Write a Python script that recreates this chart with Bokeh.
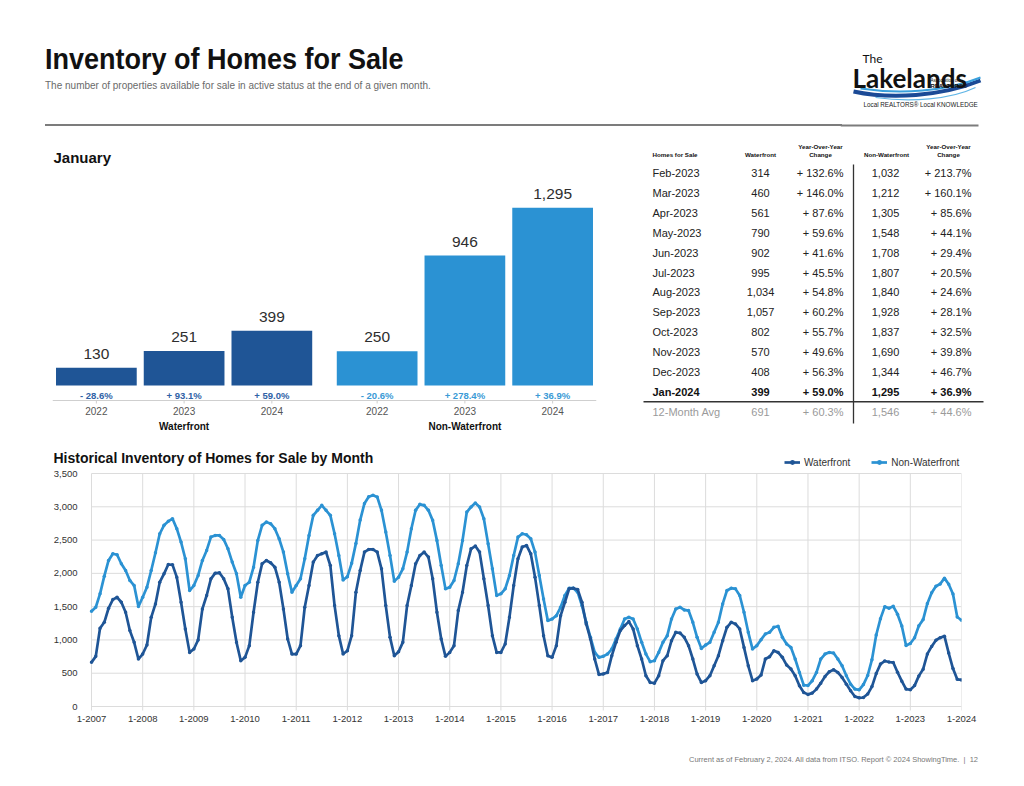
from bokeh.plotting import figure
from bokeh.models import (ColumnDataSource, FactorRange, Range1d, FixedTicker,
                          Legend, LegendItem, Div, Span)
from bokeh.layouts import column, row
from bokeh.embed import file_html
from bokeh.resources import INLINE
from bokeh.core.properties import value

# ------------------------------------------------------------------ data
bar_groups = ["Waterfront", "Non-Waterfront"]
bar_years = ["2022", "2023", "2024"]
bar_waterfront = [130, 251, 399]
bar_nonwaterfront = [250, 946, 1295]
bar_waterfront_change = [-28.6, 93.1, 59.0]
bar_nonwaterfront_change = [-20.6, 278.4, 36.9]

table_months = ["Feb-2023", "Mar-2023", "Apr-2023", "May-2023", "Jun-2023", "Jul-2023",
                "Aug-2023", "Sep-2023", "Oct-2023", "Nov-2023", "Dec-2023", "Jan-2024",
                "12-Month Avg"]
table_waterfront = [314, 460, 561, 790, 902, 995, 1034, 1057, 802, 570, 408, 399, 691]
table_waterfront_change = [132.6, 146.0, 87.6, 59.6, 41.6, 45.5, 54.8, 60.2, 55.7, 49.6,
                           56.3, 59.0, 60.3]
table_nonwaterfront = [1032, 1212, 1305, 1548, 1708, 1807, 1840, 1928, 1837, 1690, 1344,
                       1295, 1546]
table_nonwaterfront_change = [213.7, 160.1, 85.6, 44.1, 29.4, 20.5, 24.6, 28.1, 32.5, 39.8,
                              46.7, 36.9, 44.6]

hist_first_year = 2007
hist_last_year = 2024
hist_waterfront = [
    663, 753, 1175, 1265, 1476, 1606, 1641, 1566, 1416, 1140, 964, 713,      # 2007
    788, 924, 1340, 1541, 1867, 1993, 2133, 2128, 1943, 1566, 1165, 813,     # 2008
    863, 999, 1466, 1667, 1918, 2003, 2008, 1918, 1767, 1340, 964, 688,      # 2009
    738, 914, 1416, 1867, 2144, 2194, 2159, 2093, 1867, 1466, 1014, 788,     # 2010
    788, 914, 1491, 1817, 2169, 2269, 2294, 2319, 2118, 1516, 1064, 788,     # 2011
    838, 1064, 1717, 2043, 2319, 2359, 2359, 2319, 2068, 1516, 1039, 763,    # 2012
    823, 964, 1516, 1817, 2144, 2269, 2319, 2244, 1918, 1416, 1014, 753,     # 2013
    813, 914, 1441, 1717, 2118, 2369, 2410, 2319, 1918, 1516, 1064, 813,     # 2014
    813, 939, 1340, 1817, 2219, 2395, 2420, 2294, 1943, 1516, 1064, 763,     # 2015
    738, 914, 1365, 1566, 1767, 1777, 1757, 1566, 1240, 1014, 713, 480,      # 2016
    490, 510, 763, 964, 1140, 1215, 1275, 1165, 914, 713, 462, 361,          # 2017
    351, 462, 688, 763, 989, 1114, 1104, 1039, 914, 713, 487, 361,           # 2018
    387, 462, 612, 763, 989, 1190, 1265, 1240, 1165, 888, 612, 387,          # 2019
    412, 472, 713, 748, 838, 813, 738, 622, 562, 462, 311, 211,              # 2020
    182, 201, 261, 351, 452, 522, 552, 512, 437, 336, 236, 151,              # 2021
    130, 135, 187, 299, 495, 637, 684, 668, 660, 515, 381, 261,              # 2022
    251, 314, 460, 561, 790, 902, 995, 1034, 1057, 802, 570, 408,            # 2023
    399,                                                                     # 2024
]
hist_nonwaterfront = [
    1431, 1491, 1692, 1958, 2194, 2294, 2279, 2144, 2043, 1893, 1817, 1501,  # 2007
    1641, 1792, 2043, 2309, 2595, 2721, 2781, 2821, 2671, 2470, 2219, 1742,  # 2008
    1817, 1968, 2194, 2344, 2545, 2570, 2570, 2510, 2369, 2169, 1993, 1641,  # 2009
    1817, 1867, 2093, 2495, 2721, 2771, 2746, 2671, 2520, 2319, 1993, 1717,  # 2010
    1817, 1918, 2219, 2570, 2871, 2947, 3022, 2947, 2871, 2595, 2269, 1900,  # 2011
    1950, 2150, 2450, 2800, 3050, 3150, 3172, 3147, 2947, 2620, 2269, 1880,  # 2012
    1943, 2068, 2319, 2671, 2947, 3037, 3022, 2947, 2796, 2495, 2118, 1767,  # 2013
    1792, 1893, 2144, 2495, 2921, 2997, 3057, 2997, 2821, 2445, 2068, 1667,  # 2014
    1692, 1767, 1968, 2269, 2545, 2595, 2580, 2520, 2319, 1968, 1616, 1290,  # 2015
    1315, 1365, 1491, 1667, 1777, 1777, 1717, 1516, 1265, 1039, 813, 738,    # 2016
    753, 788, 863, 1014, 1165, 1315, 1340, 1315, 1165, 964, 788, 673,        # 2017
    688, 813, 964, 1064, 1315, 1466, 1491, 1451, 1441, 1265, 1039, 873,      # 2018
    924, 964, 1114, 1265, 1541, 1742, 1777, 1767, 1667, 1416, 1114, 863,     # 2019
    914, 1004, 1089, 1114, 1190, 1205, 1039, 939, 888, 713, 512, 321,        # 2020
    315, 387, 512, 713, 788, 813, 803, 713, 612, 462, 336, 261,              # 2021
    250, 329, 466, 703, 1074, 1320, 1500, 1477, 1505, 1386, 1209, 916,       # 2022
    946, 1032, 1212, 1305, 1548, 1708, 1807, 1840, 1928, 1837, 1690, 1344,   # 2023
    1295,                                                                    # 2024
]
hist_y_ticks = [0, 500, 1000, 1500, 2000, 2500, 3000, 3500]

# ------------------------------------------------------------------ style
FONT = "Liberation Sans"
C_WF = "#1f5596"
C_NWF = "#2b92d3"
C_WF_TXT = "#2f62a6"
C_NWF_TXT = "#3a9ad6"
GRID = "#dcdcdc"


def pct(v):
    return ("+ " if v >= 0 else "- ") + f"{abs(v):.1f}%"


def blank_fig(**kw):
    p = figure(toolbar_location=None, output_backend="svg", title=None,
               x_axis_location=None, y_axis_location=None, **kw)
    p.outline_line_color = None
    p.background_fill_color = None
    p.border_fill_color = None
    for g in p.grid:
        g.visible = False
    return p


# ------------------------------------------------------------------ header
header = Div(width=840, height=127, margin=(0, 0, 0, 0), text=(
    "<div style='margin:0 0 0 45px;padding-top:44px;width:797px;height:126px;"
    "box-sizing:border-box;border-bottom:2px solid #7c7c7c;'>"
    f"<div style=\"font-family:'{FONT}',sans-serif;font-weight:bold;font-size:30px;"
    "line-height:30px;color:#111;white-space:nowrap;display:inline-block;"
    "transform:scaleX(0.9);transform-origin:0 0;\">Inventory of Homes for Sale</div>"
    f"<div style=\"font-family:'{FONT}',sans-serif;font-size:10px;line-height:10px;color:#6a6a6a;"
    "margin-top:7px;white-space:nowrap;\">The number of properties available for sale in active "
    "status at the end of a given month.</div></div>"))

logo = blank_fig(width=150, height=127, x_range=Range1d(0, 150), y_range=Range1d(127, 0),
                 min_border=0)
logo.bezier(x0=[13], y0=[91], x1=[140], y1=[80], cx0=[50], cy0=[99], cx1=[100], cy1=[96],
            line_color="#1b4a96", line_width=4)
logo.bezier(x0=[20], y0=[88], x1=[140], y1=[77], cx0=[60], cy0=[94], cx1=[105], cy1=[91],
            line_color="#3aa0dc", line_width=2)
logo.bezier(x0=[35], y0=[97], x1=[135], y1=[87], cx0=[70], cy0=[102], cx1=[110], cy1=[99],
            line_color="#62b6e6", line_width=1.2)
logo.text(x=[22], y=[58], text=["The"], text_font=value("Lato"), text_font_size="12px",
          text_color="#111", text_baseline="alphabetic")
logo.text(x=[12], y=[77], text=["Lakelands"], text_font=value("Lato"), text_font_style="bold",
          text_font_size="26px", text_color="#111", text_baseline="alphabetic")
logo.text(x=[90], y=[80], text=["Association of"], text_font=value(FONT),
          text_font_size="4.5px", text_color="#111", text_baseline="alphabetic")
logo.text(x=[90], y=[85], text=["REALTORS®"], text_font=value(FONT), text_font_style="bold",
          text_font_size="6px", text_color="#111", text_baseline="alphabetic")
logo.text(x=[23], y=[104], text=["Local REALTORS® Local KNOWLEDGE"], text_font=value(FONT),
          text_font_size="6.3px", text_color="#222", text_baseline="alphabetic")
logo.segment(x0=[0], y0=[125], x1=[138], y1=[125], line_color="#7c7c7c", line_width=2)

# ------------------------------------------------------------------ bar chart
BAR_H = 313            # figure height (px)
BASE_FROM_TOP = 258    # px from figure top to bar baseline
PX_PER_UNIT = 0.1373
AXIS_BELOW = 15        # px from bar baseline down to axis line
SLOT_PX = 87.74

factors = [(g, y) for g in bar_groups for y in bar_years]
values = bar_waterfront + bar_nonwaterfront
changes = bar_waterfront_change + bar_nonwaterfront_change
bar_src = ColumnDataSource(dict(
    x=factors, top=values,
    label=[f"{v:,}" for v in values],
    pct=[pct(c) for c in changes],
    year=[y for _, y in factors],
    color=[C_WF] * len(bar_years) + [C_NWF] * len(bar_years),
    pcolor=[C_WF_TXT] * len(bar_years) + [C_NWF_TXT] * len(bar_years),
))
y_top = BASE_FROM_TOP / PX_PER_UNIT
y_bot = -(BAR_H - BASE_FROM_TOP) / PX_PER_UNIT
axis_y = -AXIS_BELOW / PX_PER_UNIT
bar = blank_fig(width=620, height=BAR_H,
                x_range=FactorRange(*factors, factor_padding=0, group_padding=0.2,
                                    range_padding=0),
                y_range=Range1d(y_bot, y_top),
                min_border_left=52, min_border_right=24, min_border_top=0, min_border_bottom=0)
bar.vbar(x="x", top="top", width=0.92, fill_color="color", line_color=None, source=bar_src)
bar.text(x="x", y="top", text="label", source=bar_src, text_align="center",
         text_baseline="middle", y_offset=-14, text_font=value(FONT),
         text_font_size="15.5px", text_color="#2e2e2e")
bar.text(x="x", y=0, text="pct", source=bar_src, text_align="center",
         text_baseline="middle", y_offset=9.7, text_font=value(FONT),
         text_font_style="bold", text_font_size="9.5px", text_color="pcolor")
bar.add_layout(Span(location=axis_y, dimension="width", line_color="#cfcfcf", line_width=1))
bar.segment(x0="x", y0=axis_y, x1="x", y1=axis_y - 3 / PX_PER_UNIT, source=bar_src,
            line_color="#cfcfcf", line_width=1)
bar.text(x="x", y=axis_y, text="year", source=bar_src, text_align="center",
         text_baseline="middle", y_offset=10.3, text_font=value(FONT),
         text_font_size="10px", text_color="#555555")
bar.text(x=bar_groups, y=[axis_y] * len(bar_groups), text=bar_groups, text_align="center",
         text_baseline="middle", y_offset=25.5, text_font=value(FONT),
         text_font_style="bold", text_font_size="10px", text_color="#111111")
bar.text(x=[factors[0]], y=[y_top], text=["January"], text_align="left",
         text_baseline="middle", x_offset=-SLOT_PX / 2 + 1, y_offset=30,
         text_font=value(FONT), text_font_style="bold", text_font_size="15px",
         text_color="#111111")

# ------------------------------------------------------------------ table
tbl = blank_fig(width=370, height=BAR_H, x_range=Range1d(0, 370), y_range=Range1d(BAR_H, 0),
                min_border=0)
n = len(table_months)
rows_y = [45.5 + 19.9 * i for i in range(n)]
colors = ["#222222"] * (n - 2) + ["#111111", "#9a9a9a"]
styles = ["normal"] * (n - 2) + ["bold", "normal"]
tsrc = ColumnDataSource(dict(
    y=rows_y, month=table_months,
    wf=[f"{v:,}" for v in table_waterfront],
    wfc=[pct(v) for v in table_waterfront_change],
    nwf=[f"{v:,}" for v in table_nonwaterfront],
    nwfc=[pct(v) for v in table_nonwaterfront_change],
    color=colors, style=styles))
for col, xpos, align in [("month", 32, "left"), ("wf", 140, "center"), ("wfc", 223, "right"),
                         ("nwf", 265, "center"), ("nwfc", 351, "right")]:
    tbl.text(x=xpos, y="y", text=col, source=tsrc, text_align=align, text_baseline="middle",
             text_font=value(FONT), text_font_size="11px", text_color="color",
             text_font_style="style")
hdr = dict(text_baseline="middle", text_font=value(FONT), text_font_style="bold",
           text_font_size="6.2px", text_color="#111111")
tbl.text(x=[32], y=[27], text=["Homes for Sale"], text_align="left", **hdr)
tbl.text(x=[140, 266], y=[27, 27], text=["Waterfront", "Non-Waterfront"], text_align="center", **hdr)
tbl.text(x=[200, 328], y=[18.5, 18.5], text=["Year-Over-Year", "Year-Over-Year"],
         text_align="center", **hdr)
tbl.text(x=[200, 328], y=[26.5, 26.5], text=["Change", "Change"], text_align="center", **hdr)
tbl.segment(x0=[233], y0=[37], x1=[233], y1=[296], line_color="#333333", line_width=1.3)
mid = (rows_y[-1] + rows_y[-2]) / 2
tbl.segment(x0=[23], y0=[mid], x1=[363], y1=[mid], line_color="#333333", line_width=1.5)

# ------------------------------------------------------------------ history line chart
months = list(range(len(hist_waterfront)))
year_ticks = [12 * i for i in range(hist_last_year - hist_first_year + 1)]
year_labels = {12 * i: f"1-{hist_first_year + i}" for i in range(len(year_ticks))}

PLOT_W = 870           # px between first and last year gridline
LEFT_PAD = 38          # px from frame's left edge to first gridline
TOP_PAD = 25           # px from frame's top edge to top gridline
BOTTOM_PAD = 5         # px from 0 gridline to frame's bottom edge
GRID_H = 233           # px between 0 and top gridline
TICK_PX = 4
u_per_px = hist_y_ticks[-1] / GRID_H
x_start = -LEFT_PAD * months[-1] / PLOT_W
y_end = hist_y_ticks[-1] + TOP_PAD * u_per_px
y_start = -BOTTOM_PAD * u_per_px

line = figure(width=990, height=295, title=None, toolbar_location=None, output_backend="svg",
              x_range=Range1d(x_start, months[-1]), y_range=Range1d(y_start, y_end),
              y_axis_location=None,
              min_border_left=53, min_border_right=29, min_border_top=8, min_border_bottom=24)
line.outline_line_color = None
for g in line.grid:
    g.visible = False
ax = line.xaxis[0]
ax.ticker = FixedTicker(ticks=year_ticks)
ax.major_label_overrides = year_labels
ax.axis_line_color = None
ax.minor_tick_line_color = None
ax.major_tick_line_color = None
ax.major_tick_in = 0
ax.major_tick_out = 0
ax.major_label_standoff = 4
ax.major_label_text_font = FONT
ax.major_label_text_font_size = "9.5px"
ax.major_label_text_color = "#333333"

line.segment(x0=year_ticks, y0=[-TICK_PX * u_per_px] * len(year_ticks), x1=year_ticks,
             y1=[hist_y_ticks[-1]] * len(year_ticks), line_color=GRID, line_width=1)
line.segment(x0=[0] * len(hist_y_ticks), y0=hist_y_ticks, x1=[months[-1]] * len(hist_y_ticks),
             y1=hist_y_ticks, line_color=GRID, line_width=1)
line.text(x=[0] * len(hist_y_ticks), y=hist_y_ticks, text=[f"{v:,}" for v in hist_y_ticks],
          x_offset=-14, text_align="right", text_baseline="middle", text_font=value(FONT),
          text_font_size="9.5px", text_color="#333333")
line.text(x=[x_start], y=[y_end], text=["Historical Inventory of Homes for Sale by Month"],
          x_offset=0, y_offset=9.5, text_align="left", text_baseline="middle",
          text_font=value(FONT), text_font_style="bold", text_font_size="14px",
          text_color="#111111")

l2 = line.line(months, hist_nonwaterfront, line_color=C_NWF, line_width=2.7)
s2 = line.scatter(months, hist_nonwaterfront, size=3.5, fill_color=C_NWF, line_color=None)
l1 = line.line(months, hist_waterfront, line_color=C_WF, line_width=2.7)
s1 = line.scatter(months, hist_waterfront, size=3.5, fill_color=C_WF, line_color=None)

legend = Legend(items=[LegendItem(label="Waterfront", renderers=[l1, s1]),
                       LegendItem(label="Non-Waterfront", renderers=[l2, s2])],
                orientation="horizontal", location=(731, 243),
                border_line_color=None, background_fill_alpha=0, padding=0, margin=0,
                spacing=21, glyph_width=16, glyph_height=12, label_height=12,
                label_standoff=4, label_text_font=FONT, label_text_font_size="10px",
                label_text_color="#333333")
line.add_layout(legend)

# ------------------------------------------------------------------ footer
footer = Div(width=990, height=35, margin=(0, 0, 0, 0), text=(
    f"<div style=\"width:978px;text-align:right;padding-top:21px;font-family:'{FONT}',sans-serif;"
    "font-size:7.5px;line-height:8px;color:#777;white-space:nowrap;\">Current as of February 2, 2024. "
    "All data from ITSO. Report © 2024 ShowingTime. &nbsp;|&nbsp; 12</div>"))

page = column(row(header, logo), row(bar, tbl), line, footer)
open("out.html", "w").write(file_html(page, INLINE))
